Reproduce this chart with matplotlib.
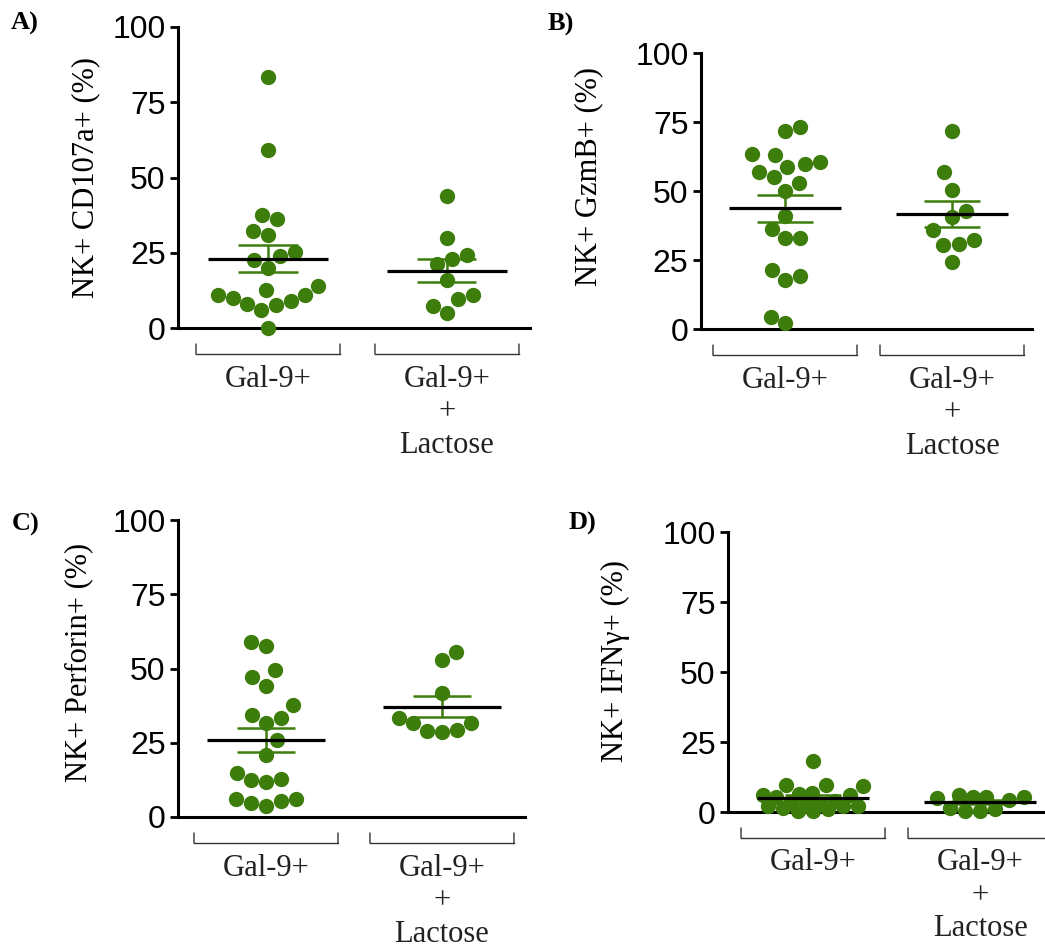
import numpy as np
import matplotlib.pyplot as plt
from matplotlib.transforms import offset_copy

# values (% of NK cells)
cd107a_gal9 = [83.4, 59.0, 37.7, 36.1, 32.1, 30.8, 25.2, 23.9, 22.7, 19.9,
               14.0, 12.7, 10.9, 10.1, 10.9, 8.1, 7.8, 9.0, 6.1, 0.0]
cd107a_lac = [43.7, 29.9, 24.1, 22.8, 21.2, 16.1, 9.7, 10.9, 7.2, 5.0]

gzmb_gal9 = [73.2, 71.6, 63.2, 63.4, 59.8, 58.7, 60.4, 56.8, 55.0, 52.9,
             49.9, 41.1, 36.4, 33.0, 33.0, 19.1, 17.9, 21.5, 4.2, 2.2]
gzmb_lac = [71.9, 56.9, 50.5, 42.6, 40.6, 36.0, 32.4, 30.8, 30.3, 24.2]

perforin_gal9 = [58.8, 57.5, 49.4, 47.0, 44.0, 37.6, 34.3, 33.4, 31.8, 25.8,
                 21.0, 14.9, 12.7, 11.8, 12.6, 6.2, 5.3, 3.6, 4.7, 6.2]
perforin_lac = [55.6, 52.8, 41.8, 33.5, 31.7, 31.5, 29.2, 28.7, 29.0]

ifng_gal9 = [18.3, 9.6, 9.4, 9.5, 6.3, 6.1, 6.8, 6.0, 5.5, 4.0,
             3.5, 3.0, 2.5, 2.0, 2.0, 1.5, 1.0, 0.5, 0.3, 2.2]
ifng_lac = [6.2, 5.2, 5.0, 5.3, 5.5, 4.2, 1.5, 0.5, 0.2, 1.0]

letters = ["A)", "B)", "C)", "D)"]
ylabels = ["NK+ CD107a+ (%)", "NK+ GzmB+ (%)", "NK+ Perforin+ (%)", "NK+ IFN\u03b3+ (%)"]
series = [(cd107a_gal9, cd107a_lac), (gzmb_gal9, gzmb_lac),
          (perforin_gal9, perforin_lac), (ifng_gal9, ifng_lac)]
yticks = [0, 25, 50, 75, 100]

GREEN = "#3d7d0c"
W, H = 1045, 951

# layout in pixels: axes (left, top, right, bottom), xlim, ylabel centre, letter centre
layout = [
    dict(rect=(178, 27, 530, 328), xlim=(-0.503, 1.464), lab=(86, 177), let=(25, 23)),
    dict(rect=(701, 53, 1032, 329), xlim=(-0.503, 1.479), lab=(589, 177), let=(561, 24)),
    dict(rect=(178, 520, 525, 817), xlim=(-0.500, 1.472), lab=(79, 662), let=(26, 524)),
    dict(rect=(728, 532, 1045, 812), xlim=(-0.509, 1.389), lab=(615, 661), let=(582, 523)),
]


def swarm(values, px_per_val, diam, ky=1.4, limit=50):
    # beeswarm with an elliptical keep-out zone and a max column half-width
    # (points overlap when the column is full, as in Prism); x offsets in px
    vals = np.asarray(values, float)
    xs = np.zeros(len(vals))
    done = []
    cand = np.arange(0, limit + 1, 1.0)

    def gap(x, y):
        if not done:
            return np.inf
        return min(((x - xs[j]) / diam) ** 2 + ((y - vals[j] * px_per_val) / (ky * diam)) ** 2
                   for j in done)

    for i in np.argsort(vals, kind="stable"):
        y = vals[i] * px_per_val
        bal = sum(xs[j] for j in done)
        sign = -1 if bal >= 0 else 1
        best, best_gap = 0.0, -1.0
        found = False
        for c in cand:
            for x in (sign * c, -sign * c):
                g = gap(x, y)
                if g >= 1:
                    best, found = x, True
                    break
                if g > best_gap + 1e-9:
                    best, best_gap = x, g
            if found:
                break
        xs[i] = best
        done.append(i)
    return xs


fig = plt.figure(figsize=(W / 100, H / 100), dpi=100)
serif = "Liberation Serif"
sans = "Liberation Sans"

for letter, ylab, (g1, g2), lay in zip(letters, ylabels, series, layout):
    l, t, r, b = lay["rect"]
    ax = fig.add_axes([l / W, 1 - b / H, (r - l) / W, (b - t) / H])
    ax.set_xlim(*lay["xlim"])
    ax.set_ylim(0, 100)
    px_x = (r - l) / (lay["xlim"][1] - lay["xlim"][0])
    px_y = (b - t) / 100.0
    diam = 14.5

    for pos, vals in enumerate([g1, g2]):
        vals = np.asarray(vals, float)
        xoff = swarm(vals, px_y, diam) / px_x
        ax.plot(pos + xoff, vals, "o", ms=10, color=GREEN, mec=GREEN, zorder=3, clip_on=False)
        m = vals.mean()
        s = vals.std(ddof=1) / np.sqrt(len(vals))
        ax.vlines(pos, m - s, m + s, color=GREEN, lw=1.8, zorder=4)
        ax.hlines([m - s, m + s], pos - 0.165, pos + 0.165, color=GREEN, lw=1.8, zorder=4)
        ax.hlines(m, pos - 0.335, pos + 0.335, color="black", lw=2.3, zorder=5)

        # bracket and group label under the axis
        hw = 72 / px_x
        tr_tick = offset_copy(ax.get_xaxis_transform(), fig=fig, y=-16, units="dots")
        tr_line = offset_copy(ax.get_xaxis_transform(), fig=fig, y=-26, units="dots")
        ax.plot([pos - hw, pos + hw], [0, 0], color="#333333", lw=1.0, transform=tr_line, clip_on=False)
        for xe in (pos - hw, pos + hw):
            ax.annotate("", xy=(xe, 0), xycoords=tr_line, xytext=(xe, 0), textcoords=tr_tick,
                        arrowprops=dict(arrowstyle="-", color="#333333", lw=1.0,
                                        shrinkA=0, shrinkB=0))
        lines = ["Gal-9+"] if pos == 0 else ["Gal-9+", "+", "Lactose"]
        for k, txt in enumerate(lines):
            tr = offset_copy(ax.get_xaxis_transform(), fig=fig, y=-(51 + 33 * k), units="dots")
            ax.text(pos, 0, txt, transform=tr, ha="center", va="center",
                    fontsize=22, family=serif, color="#222222")

    for side in ("top", "right"):
        ax.spines[side].set_visible(False)
    ax.spines["left"].set_linewidth(2.2)
    ax.spines["bottom"].set_linewidth(2.2)
    ax.set_xticks([])
    ax.set_yticks(yticks)
    ax.tick_params(axis="y", direction="out", length=6, width=2, pad=3, labelsize=23)
    for lbl in ax.get_yticklabels():
        lbl.set_family(sans)

    fig.text(lay["lab"][0] / W, 1 - lay["lab"][1] / H, ylab, rotation=90,
             ha="center", va="center", fontsize=22, family=serif)
    fig.text(lay["let"][0] / W, 1 - lay["let"][1] / H, letter, ha="center", va="center",
             fontsize=19, family=serif, fontweight="bold")

fig.savefig("out.png", dpi=100)
